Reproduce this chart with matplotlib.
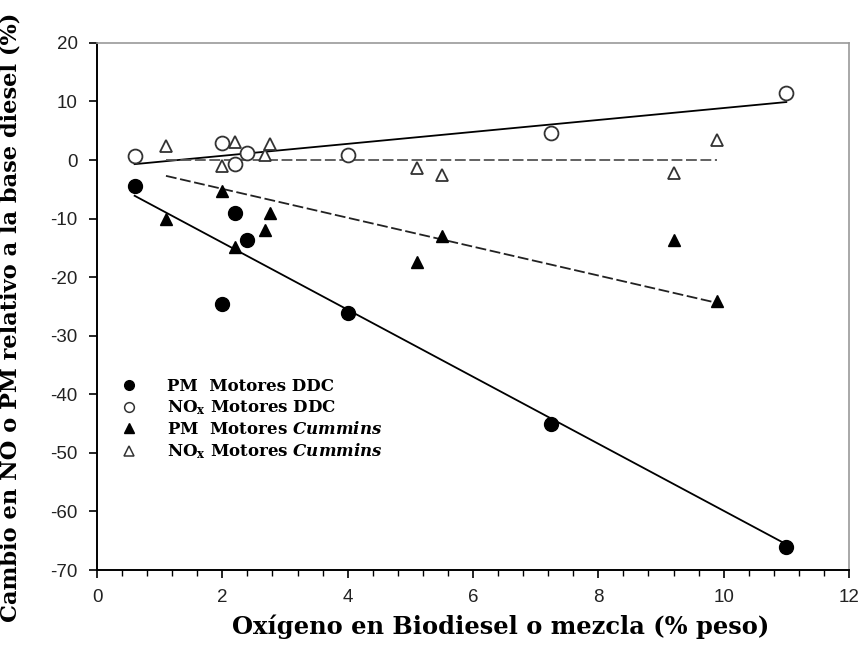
import matplotlib
matplotlib.use("Agg")
import matplotlib.pyplot as plt
from matplotlib.ticker import MultipleLocator
from matplotlib.lines import Line2D

# ------------------------------------------------------------
# Oxygen content of biodiesel vs. change in NOx / PM emissions
# ------------------------------------------------------------

# PM, DDC engines
pm_ddc_x = [0.6, 2.0, 2.2, 2.4, 4.0, 7.25, 11.0]
pm_ddc_y = [-4.5, -24.5, -9.0, -13.7, -26.1, -45.0, -66.0]

# NOx, DDC engines
nox_ddc_x = [0.6, 2.0, 2.2, 2.4, 4.0, 7.25, 11.0]
nox_ddc_y = [0.7, 2.9, -0.7, 1.2, 0.9, 4.6, 11.5]

# PM, Cummins engines
pm_cum_x = [1.1, 2.0, 2.2, 2.68, 2.76, 5.1, 5.5, 9.2, 9.9]
pm_cum_y = [-10.0, -5.3, -14.8, -12.0, -9.0, -17.4, -13.0, -13.7, -24.1]

# NOx, Cummins engines
nox_cum_x = [1.1, 2.0, 2.2, 2.68, 2.76, 5.1, 5.5, 9.2, 9.9]
nox_cum_y = [2.4, -1.0, 3.0, 0.9, 2.7, -1.3, -2.5, -2.2, 3.5]

# trend lines (start/end points)
pm_ddc_fit_x, pm_ddc_fit_y = [0.6, 11.0], [-6.1, -65.6]
nox_ddc_fit_x, nox_ddc_fit_y = [0.6, 11.0], [-0.7, 9.9]
pm_cum_fit_x, pm_cum_fit_y = [1.1, 9.9], [-2.7, -24.4]
nox_cum_fit_x, nox_cum_fit_y = [1.1, 9.9], [0.0, 0.0]

labels = [r"PM  Motores DDC",
          r"NO$_\mathrm{x}$ Motores DDC",
          r"PM  Motores $\mathit{Cummins}$",
          r"NO$_\mathrm{x}$ Motores $\mathit{Cummins}$"]

serif = 'DejaVu Serif'
plt.rcParams['axes.unicode_minus'] = False
plt.rcParams['mathtext.fontset'] = 'custom'
plt.rcParams['mathtext.rm'] = serif + ':bold'
plt.rcParams['mathtext.it'] = serif + ':italic:bold'

fig = plt.figure(figsize=(8.61, 6.5), dpi=100)
ax = fig.add_axes([0.1127, 0.123, 0.8733, 0.811])

ms = 10
# regression lines
ax.plot(pm_ddc_fit_x, pm_ddc_fit_y, color='black', lw=1.3, zorder=2)
ax.plot(nox_ddc_fit_x, nox_ddc_fit_y, color='black', lw=1.3, zorder=2)
ax.plot(pm_cum_fit_x, pm_cum_fit_y, color='#222222', lw=1.3, ls=(0, (6, 2)), zorder=2)
ax.plot(nox_cum_fit_x, nox_cum_fit_y, color='#555555', lw=1.3, ls=(0, (6, 2)), zorder=2)

# data points
ax.plot(pm_ddc_x, pm_ddc_y, 'o', ms=ms, mfc='black', mec='black', zorder=3)
ax.plot(nox_ddc_x, nox_ddc_y, 'o', ms=ms, mfc='white', mec='#333333', mew=1.3, zorder=3)
ax.plot(pm_cum_x, pm_cum_y, '^', ms=ms - 1, mfc='black', mec='black', zorder=3)
ax.plot(nox_cum_x, nox_cum_y, '^', ms=ms - 1, mfc='white', mec='#333333', mew=1.3, zorder=3)

ax.set_xlim(0, 12)
ax.set_ylim(-70, 20)
ax.xaxis.set_major_locator(MultipleLocator(2))
ax.xaxis.set_minor_locator(MultipleLocator(0.4))
ax.yaxis.set_major_locator(MultipleLocator(10))

ax.tick_params(axis='both', which='major', direction='out', length=6, width=1.2,
               labelsize=13.5, pad=8)
ax.tick_params(axis='x', which='minor', direction='out', length=4, width=1)
for lab in ax.get_xticklabels() + ax.get_yticklabels():
    lab.set_fontfamily('Liberation Sans')
    lab.set_color('#222222')

for side in ['left', 'bottom']:
    ax.spines[side].set_linewidth(1.4)
for side in ['top', 'right']:
    ax.spines[side].set_color('#999999')
    ax.spines[side].set_linewidth(1.2)

ax.set_xlabel("Oxígeno en Biodiesel o mezcla (% peso)", family=serif,
              fontweight='bold', fontsize=17.4)
ax.set_ylabel("Cambio en NO o PM relativo a la base diesel (%)", family=serif,
              fontweight='bold', fontsize=16.2)
ax.xaxis.set_label_coords(0.537, -0.085)
ax.yaxis.set_label_coords(-0.1, 0.48)

handles = [
    Line2D([], [], ls='none', marker='o', ms=7, mfc='black', mec='black'),
    Line2D([], [], ls='none', marker='o', ms=7, mfc='white', mec='#333333', mew=1.1),
    Line2D([], [], ls='none', marker='^', ms=7, mfc='black', mec='black'),
    Line2D([], [], ls='none', marker='^', ms=7, mfc='white', mec='#333333', mew=1.1),
]
leg = ax.legend(handles, labels, loc='lower left', bbox_to_anchor=(0.0, 0.178),
                frameon=False, handletextpad=1.3, labelspacing=0.22,
                prop={'family': serif, 'weight': 'bold', 'size': 12})

plt.savefig("out.png", dpi=100)
